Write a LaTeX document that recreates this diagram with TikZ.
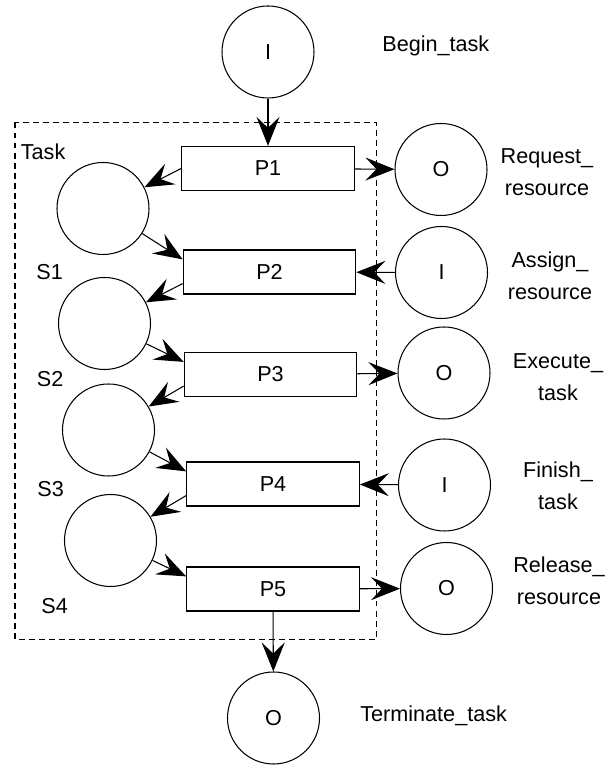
\documentclass[tikz,border=0pt]{standalone}
\usepackage{fontspec}
\setmainfont{Liberation Sans}
\usetikzlibrary{arrows.meta}
\tikzset{
    % arrows and labels
    myarr/.style={-{Stealth[length=0.58cm,width=0.46cm,inset=0.22cm]}, line width=0.6pt},
    mylab/.style={font=\fontsize{12.3}{18.2}\selectfont, inner sep=0pt},
    % places and transitions
    myplace/.style={draw, circle, minimum size=1.84cm, inner sep=0pt, line width=0.6pt, font=\fontsize{12.3}{15}\selectfont},
    mytrans/.style={draw, rectangle, minimum width=3.45cm, minimum height=0.88cm, inner sep=0pt, line width=0.7pt, font=\fontsize{12.3}{15}\selectfont}
}
\begin{document}
\begin{tikzpicture}
    \useasboundingbox (0,0) rectangle (12.26,15.30);

    % task boundary
    \draw[dashed, dash pattern=on 3.4pt off 2.3pt, line width=0.6pt] (0.30,12.85) rectangle (7.53,2.51);

    \node (ib) at (5.36,14.26) [myplace] {I};
    \node (ot) at (5.47,0.94) [myplace] {O};

    \node (P1) at (5.36,11.93) [mytrans] {P1};
    \node (P2) at (5.39,9.86) [mytrans] {P2};
    \node (P3) at (5.41,7.81) [mytrans] {P3};
    \node (P4) at (5.46,5.62) [mytrans] {P4};
    \node (P5) at (5.46,3.52) [mytrans] {P5};

    \node (st1) at (2.06,11.13) [myplace] {};
    \node (st2) at (2.09,8.83) [myplace] {};
    \node (st3) at (2.17,6.70) [myplace] {};
    \node (st4) at (2.21,4.49) [myplace] {};

    \node (r1) at (8.82,11.91) [myplace] {O};
    \node (r2) at (8.83,9.85) [myplace] {I};
    \node (r3) at (8.88,7.84) [myplace] {O};
    \node (r4) at (8.89,5.60) [myplace] {I};
    \node (r5) at (8.93,3.53) [myplace] {O};

    % LABELS
    \node (lbegin) at (7.64,14.27) [mylab, anchor=base west] {Begin\_task};
    \node (lterm) at (7.20,0.87) [mylab, anchor=base west] {Terminate\_task};
    \node (ltask) at (0.41,12.10) [mylab, anchor=base west] {Task};
    \node (ls1) at (0.72,9.70) [mylab, anchor=base west] {S1};
    \node (ls2) at (0.73,7.57) [mylab, anchor=base west] {S2};
    \node (ls3) at (0.74,5.37) [mylab, anchor=base west] {S3};
    \node (ls4) at (0.82,3.03) [mylab, anchor=base west] {S4};

    \node (lr1) at (10.94,11.86) [mylab, align=center] {Request\_ \\ resource};
    \node (lr2) at (11.00,9.78) [mylab, align=center] {Assign\_ \\ resource};
    \node (lr3) at (11.16,7.76) [mylab, align=center] {Execute\_ \\ task};
    \node (lr4) at (11.16,5.58) [mylab, align=center] {Finish\_ \\ task};
    \node (lr5) at (11.18,3.68) [mylab, align=center] {Release\_ \\ resource};

    % ARROWS
    \draw[myarr] (ib) -- (P1);
    \draw[myarr] (P1.west) -- (st1);
    \draw[myarr] (st1) -- ([yshift=-0.2cm]P2.north west);
    \draw[myarr] ([yshift=0.22cm]P2.south west) -- (st2);
    \draw[myarr] (st2) -- ([yshift=-0.2cm]P3.north west);
    \draw[myarr] ([yshift=0.22cm]P3.south west) -- (st3);
    \draw[myarr] (st3) -- ([yshift=-0.2cm]P4.north west);
    \draw[myarr] ([yshift=0.22cm]P4.south west) -- (st4);
    \draw[myarr] (st4) -- ([yshift=-0.2cm]P5.north west);
    \draw[myarr] (P5) -- (ot);

    \draw[myarr] (P1) -- (r1);
    \draw[myarr] (r2) -- (P2);
    \draw[myarr] (P3) -- (r3);
    \draw[myarr] (r4) -- (P4);
    \draw[myarr] (P5) -- (r5);
\end{tikzpicture}
\end{document}
